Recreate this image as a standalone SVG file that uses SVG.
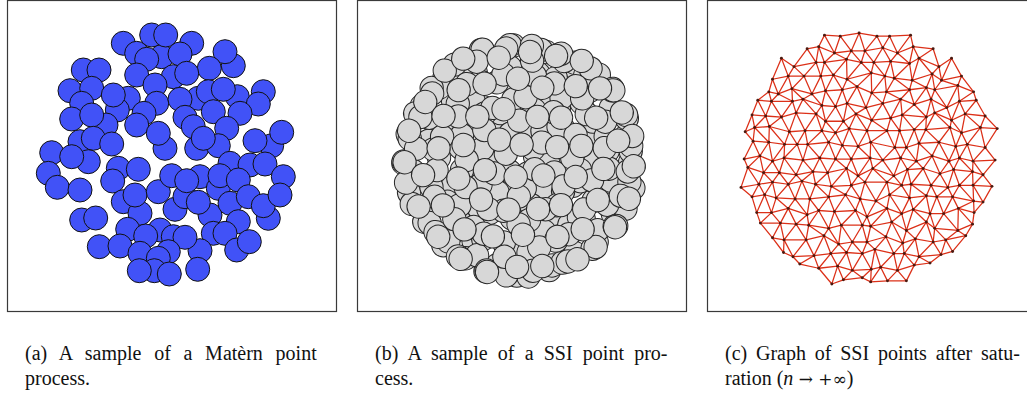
<svg xmlns="http://www.w3.org/2000/svg" xmlns:xlink="http://www.w3.org/1999/xlink" width="1027" height="394" viewBox="0 0 1027 394">
<style>
.frame{fill:#fff;stroke:#3a3a3a;stroke-width:1.2}
.m{fill:#4152f7;stroke:#111;stroke-width:1}
.s{fill:#d7d7d7;stroke:#262626;stroke-width:0.93}
.e{fill:none;stroke:#dc3018;stroke-width:1.2;stroke-linejoin:round}
.r{marker-start:url(#dot);marker-mid:url(#dot);marker-end:url(#dot)}
.cap{font-family:"Liberation Serif","Times New Roman",serif;font-size:20px;fill:#111}
</style>
<defs>
<marker id="dot" markerUnits="userSpaceOnUse" markerWidth="4" markerHeight="4" refX="2" refY="2" overflow="visible"><circle cx="2" cy="2" r="1.4" fill="#4a1a10"/></marker>
<g id="ssi">
<circle class="s" cx="-35" cy="-101" r="10.8"/><circle class="s" cx="-6" cy="-106" r="10.8"/><circle class="s" cx="24" cy="-100" r="10.8"/>
<circle class="s" cx="-70" cy="-76" r="10.8"/><circle class="s" cx="-41" cy="-81" r="10.8"/><circle class="s" cx="-13" cy="-75" r="10.8"/><circle class="s" cx="17" cy="-80" r="10.8"/><circle class="s" cx="44" cy="-74" r="10.8"/><circle class="s" cx="73" cy="-79" r="10.8"/>
<circle class="s" cx="-91" cy="-50" r="10.8"/><circle class="s" cx="-62" cy="-55" r="10.8"/><circle class="s" cx="-34" cy="-49" r="10.8"/><circle class="s" cx="-3" cy="-54" r="10.8"/><circle class="s" cx="26" cy="-50" r="10.8"/><circle class="s" cx="57" cy="-53" r="10.8"/><circle class="s" cx="84" cy="-48" r="10.8"/>
<circle class="s" cx="-104" cy="-24" r="10.8"/><circle class="s" cx="-77" cy="-29" r="10.8"/><circle class="s" cx="-46" cy="-23" r="10.8"/><circle class="s" cx="-19" cy="-28" r="10.8"/><circle class="s" cx="12" cy="-24" r="10.8"/><circle class="s" cx="40" cy="-29" r="10.8"/><circle class="s" cx="71" cy="-25" r="10.8"/><circle class="s" cx="98" cy="-22" r="10.8"/>
<circle class="s" cx="-108" cy="3" r="10.8"/><circle class="s" cx="-75" cy="-2" r="10.8"/><circle class="s" cx="-47" cy="4" r="10.8"/><circle class="s" cx="-16" cy="1" r="10.8"/><circle class="s" cx="14" cy="-3" r="10.8"/><circle class="s" cx="43" cy="3" r="10.8"/><circle class="s" cx="70" cy="-1" r="10.8"/><circle class="s" cx="102" cy="2" r="10.8"/>
<circle class="s" cx="-95" cy="28" r="10.8"/><circle class="s" cx="-65" cy="24" r="10.8"/><circle class="s" cx="-38" cy="30" r="10.8"/><circle class="s" cx="-7" cy="25" r="10.8"/><circle class="s" cx="22" cy="29" r="10.8"/><circle class="s" cx="49" cy="24" r="10.8"/><circle class="s" cx="81" cy="28" r="10.8"/><circle class="s" cx="105" cy="26" r="10.8"/>
<circle class="s" cx="-87" cy="50" r="10.8"/><circle class="s" cx="-57" cy="55" r="10.8"/><circle class="s" cx="-28" cy="49" r="10.8"/><circle class="s" cx="1" cy="54" r="10.8"/><circle class="s" cx="30" cy="50" r="10.8"/><circle class="s" cx="59" cy="55" r="10.8"/><circle class="s" cx="86" cy="50" r="10.8"/>
<circle class="s" cx="-71" cy="79" r="10.8"/><circle class="s" cx="-43" cy="75" r="10.8"/><circle class="s" cx="-13" cy="80" r="10.8"/><circle class="s" cx="16" cy="76" r="10.8"/><circle class="s" cx="45" cy="81" r="10.8"/><circle class="s" cx="71" cy="76" r="10.8"/>
<circle class="s" cx="-32" cy="103" r="10.8"/><circle class="s" cx="-3" cy="107" r="10.8"/><circle class="s" cx="27" cy="102" r="10.8"/>
</g>
</defs>
<rect width="1027" height="394" fill="#fff"/>

<g id="panel-a">
<rect class="frame" x="7.5" y="0.5" width="329" height="311"/>
<g id="matern-points">
<circle class="m" cx="123.3" cy="43.3" r="12"/><circle class="m" cx="151.7" cy="35" r="12"/><circle class="m" cx="191.7" cy="43.3" r="12"/>
<circle class="m" cx="136.7" cy="53.3" r="12"/><circle class="m" cx="161.7" cy="56.7" r="12"/><circle class="m" cx="165.7" cy="35" r="12"/>
<circle class="m" cx="146.7" cy="59.3" r="12"/><circle class="m" cx="180" cy="54" r="12"/><circle class="m" cx="233.3" cy="65.7" r="12"/><circle class="m" cx="225" cy="51.7" r="12"/>
<circle class="m" cx="209.3" cy="68.3" r="12"/><circle class="m" cx="173.3" cy="76.7" r="12"/><circle class="m" cx="186.7" cy="73.3" r="12"/>
<circle class="m" cx="136.7" cy="75" r="12"/><circle class="m" cx="155" cy="85" r="12"/>
<circle class="m" cx="83.3" cy="70" r="12"/><circle class="m" cx="99" cy="70" r="12"/>
<circle class="m" cx="70" cy="90.7" r="12"/><circle class="m" cx="91.7" cy="88.3" r="12"/><circle class="m" cx="81.7" cy="103.3" r="12"/>
<circle class="m" cx="128.3" cy="98.3" r="12"/><circle class="m" cx="117.3" cy="110" r="12"/><circle class="m" cx="113.3" cy="95" r="12"/>
<circle class="m" cx="156.7" cy="103.3" r="12"/><circle class="m" cx="144" cy="113.3" r="12"/>
<circle class="m" cx="198.3" cy="98.3" r="12"/><circle class="m" cx="180" cy="99.3" r="12"/>
<circle class="m" cx="208.3" cy="91.7" r="12"/><circle class="m" cx="237.3" cy="96.7" r="12"/><circle class="m" cx="223.3" cy="89.3" r="12"/>
<circle class="m" cx="263.3" cy="91.7" r="12"/><circle class="m" cx="258.3" cy="104" r="12"/>
<circle class="m" cx="240" cy="113.3" r="12"/><circle class="m" cx="213.3" cy="111.7" r="12"/><circle class="m" cx="185" cy="117.3" r="12"/>
<circle class="m" cx="71.7" cy="119" r="12"/><circle class="m" cx="106" cy="125" r="12"/><circle class="m" cx="91.7" cy="115" r="12"/>
<circle class="m" cx="136.7" cy="125" r="12"/><circle class="m" cx="165" cy="148.3" r="12"/><circle class="m" cx="158.3" cy="133.3" r="12"/>
<circle class="m" cx="226.7" cy="128.3" r="12"/><circle class="m" cx="196.7" cy="148.3" r="12"/><circle class="m" cx="193.3" cy="126.7" r="12"/>
<circle class="m" cx="218.3" cy="145.7" r="12"/><circle class="m" cx="203.3" cy="138.3" r="12"/>
<circle class="m" cx="271.7" cy="145.7" r="12"/><circle class="m" cx="255" cy="140.7" r="12"/><circle class="m" cx="281.7" cy="132.3" r="12"/>
<circle class="m" cx="80" cy="141.7" r="12"/><circle class="m" cx="93.3" cy="138.3" r="12"/><circle class="m" cx="111.7" cy="144" r="12"/>
<circle class="m" cx="51.7" cy="152.7" r="12"/><circle class="m" cx="88.3" cy="161.7" r="12"/><circle class="m" cx="71.7" cy="156.7" r="12"/>
<circle class="m" cx="48.3" cy="173.3" r="12"/><circle class="m" cx="57.3" cy="187.3" r="12"/><circle class="m" cx="80" cy="190" r="12"/>
<circle class="m" cx="118.3" cy="168.3" r="12"/><circle class="m" cx="112.7" cy="181" r="12"/><circle class="m" cx="138.3" cy="169.3" r="12"/>
<circle class="m" cx="123.3" cy="201.7" r="12"/><circle class="m" cx="140" cy="213.3" r="12"/><circle class="m" cx="135" cy="195" r="12"/>
<circle class="m" cx="158.3" cy="191.7" r="12"/><circle class="m" cx="171.7" cy="175.7" r="12"/><circle class="m" cx="200" cy="176.7" r="12"/>
<circle class="m" cx="175" cy="209.3" r="12"/><circle class="m" cx="185" cy="196.7" r="12"/><circle class="m" cx="186.7" cy="180.7" r="12"/>
<circle class="m" cx="210" cy="215" r="12"/><circle class="m" cx="198.3" cy="202.3" r="12"/>
<circle class="m" cx="230" cy="163.3" r="12"/><circle class="m" cx="218.3" cy="188.3" r="12"/><circle class="m" cx="220" cy="175.7" r="12"/>
<circle class="m" cx="250" cy="165" r="12"/><circle class="m" cx="265" cy="164" r="12"/><circle class="m" cx="283.3" cy="176.7" r="12"/>
<circle class="m" cx="238.3" cy="180" r="12"/><circle class="m" cx="230" cy="203.3" r="12"/><circle class="m" cx="248.3" cy="196.7" r="12"/>
<circle class="m" cx="268.3" cy="218.3" r="12"/><circle class="m" cx="263.3" cy="205.7" r="12"/><circle class="m" cx="280" cy="195" r="12"/>
<circle class="m" cx="238.3" cy="221.7" r="12"/>
<circle class="m" cx="81.7" cy="220" r="12"/><circle class="m" cx="95.7" cy="218" r="12"/>
<circle class="m" cx="127.7" cy="229.3" r="12"/><circle class="m" cx="160" cy="230" r="12"/><circle class="m" cx="145.7" cy="236" r="12"/>
<circle class="m" cx="173.3" cy="236.7" r="12"/><circle class="m" cx="213.3" cy="233.3" r="12"/><circle class="m" cx="225" cy="233.3" r="12"/>
<circle class="m" cx="200" cy="250.7" r="12"/><circle class="m" cx="185" cy="237.3" r="12"/>
<circle class="m" cx="236.7" cy="250" r="12"/><circle class="m" cx="249.3" cy="241.7" r="12"/>
<circle class="m" cx="99.3" cy="246.7" r="12"/><circle class="m" cx="120" cy="246" r="12"/>
<circle class="m" cx="140" cy="253.3" r="12"/><circle class="m" cx="168.3" cy="251.7" r="12"/><circle class="m" cx="158.3" cy="258.3" r="12"/>
<circle class="m" cx="154.3" cy="270.7" r="12"/><circle class="m" cx="139.3" cy="270.7" r="12"/><circle class="m" cx="169.3" cy="274" r="12"/>
<circle class="m" cx="197.7" cy="269.3" r="12"/>
</g>
</g>

<g id="panel-b">
<rect class="frame" x="357.5" y="0.5" width="329" height="311"/>
<g id="ssi-points">
<use xlink:href="#ssi" transform="translate(520,160) rotate(0) scale(1.08)"/>
<use xlink:href="#ssi" transform="translate(520,160) rotate(72) scale(1.08)"/>
<use xlink:href="#ssi" transform="translate(520,160) rotate(144) scale(1.08)"/>
<use xlink:href="#ssi" transform="translate(520,160) rotate(216) scale(1.08)"/>
<use xlink:href="#ssi" transform="translate(520,160) rotate(288) scale(1.08)"/>
</g>
</g>

<g id="panel-c">
<rect class="frame" x="707.5" y="0.5" width="330" height="311"/>
<g id="ssi-graph" transform="translate(867,158) scale(1.05) translate(-867,-158)">
<g id="graph-edges-a" class="e">
<polyline points="747,186 757.5,195 762,210 765.5,220 777,234 787.5,248"/>
<polyline points="750,159 753.5,167 764,183 769.5,193 776,210 784.5,220 788,236 796.5,252 803,259"/>
<polyline points="751,133 758.5,142 765,156 768.5,172 777,181 780.5,196 792,206 799.5,221 809,236 816.5,251 821,263 833.5,278"/>
<polyline points="757.5,117 760,129 773.5,143 777,161 783.5,172 792,183 798.5,197 810,212 811.5,222 826,232 832.5,249 839,261 844.5,274"/>
<polyline points="763,103 770.5,118 774,128 788.5,145 788,158 799.5,174 805,180 812.5,197 821,208 830.5,225 840,240 847.5,248 853,265 862.5,272"/>
<polyline points="773.5,95 776,104 785.5,119 793,133 800.5,145 806,160 815.5,171 818,183 830.5,195 836,209 842.5,222 853,238 862.5,249 871,264 870.5,276"/>
<polyline points="777,83 782.5,97 796,104 799.5,115 808,132 810.5,145 822,158 829.5,172 833,185 846.5,193 856,208 862.5,222 867,238 874.5,245 880,262 886.5,275"/>
<polyline points="785.5,63 792,80 795.5,92 806,102 818.5,116 824,132 830.5,143 837,159 847.5,168 852,184 860.5,197 867,214 870.5,223 885,233 892.5,249 896,265 904.5,275"/>
<polyline points="797.5,71 807,80 814.5,97 824,108 827.5,123 837,134 843.5,146 852,159 858.5,175 865,181 875.5,199 886,206 890.5,219 901,239 902.5,249 912,260"/>
<polyline points="810,54 818.5,67 823,80 827.5,94 837,109 844.5,123 850,130 858.5,147 870,158 872.5,168 886,181 888.5,193 900,211 904.5,227 913,235 916.5,252 927,258"/>
<polyline points="821,52 826.5,67 835,79 843.5,93 848,106 856.5,116 867,132 870.5,143 882,160 892.5,175 900,184 907.5,196 911,207 923.5,219 930,238 937.5,250"/>
<polyline points="826.5,41 836,58 847.5,64 848,83 857.5,90 866,110 871.5,122 886,132 893.5,148 899,158 905.5,169 909,183 923.5,194 927,211 931.5,225 942,236 948.5,247"/>
<polyline points="841.5,42 852,56 861.5,67 871,77 871.5,96 882,106 889.5,120 898,132 904.5,148 914,161 920.5,168 928,184 933.5,195 940,211 953.5,227 961,232"/>
<polyline points="859.5,39 865,56 873.5,67 884,80 885.5,95 899,102 900.5,117 912,131 916.5,144 929,156 936.5,173 944,186 948.5,195 954,206 967.5,221"/>
<polyline points="876.5,42 882,53 889.5,66 893,82 907.5,93 912,107 923.5,119 923,131 935.5,143 945,161 949.5,169 955,184 968.5,199 969,210"/>
<polyline points="888.5,42 896,58 907.5,68 910,84 923.5,91 928,102 931.5,115 946,129 951.5,147 955,158 967.5,171 968,184 977.5,200"/>
<polyline points="908.5,41 911,52 916.5,63 929,78 931.5,93 943,110 947.5,122 957,134 962.5,145 968,161 977.5,174 986,185"/>
<polyline points="930,54 935.5,71 938,84 953.5,89 955,104 960.5,116 975,129 979.5,148 989,160"/>
<polyline points="947.5,63 957,80 968.5,95 971,103 979.5,118 991,130"/>
</g>
<g id="graph-edges-b" class="e">
<polyline points="785.5,63 777,83 773.5,95 763,103 757.5,117 751,133"/>
<polyline points="810,54 797.5,71 792,80 782.5,97 776,104 770.5,118 760,129 758.5,142 750,159"/>
<polyline points="826.5,41 821,52 818.5,67 807,80 795.5,92 796,104 785.5,119 774,128 773.5,143 765,156 753.5,167 747,186"/>
<polyline points="841.5,42 836,58 826.5,67 823,80 814.5,97 806,102 799.5,115 793,133 788.5,145 777,161 768.5,172 764,183 757.5,195"/>
<polyline points="859.5,39 852,56 847.5,64 835,79 827.5,94 824,108 818.5,116 808,132 800.5,145 788,158 783.5,172 777,181 769.5,193 762,210"/>
<polyline points="876.5,42 865,56 861.5,67 848,83 843.5,93 837,109 827.5,123 824,132 810.5,145 806,160 799.5,174 792,183 780.5,196 776,210 765.5,220"/>
<polyline points="888.5,42 882,53 873.5,67 871,77 857.5,90 848,106 844.5,123 837,134 830.5,143 822,158 815.5,171 805,180 798.5,197 792,206 784.5,220 777,234"/>
<polyline points="908.5,41 896,58 889.5,66 884,80 871.5,96 866,110 856.5,116 850,130 843.5,146 837,159 829.5,172 818,183 812.5,197 810,212 799.5,221 788,236 787.5,248"/>
<polyline points="911,52 907.5,68 893,82 885.5,95 882,106 871.5,122 867,132 858.5,147 852,159 847.5,168 833,185 830.5,195 821,208 811.5,222 809,236 796.5,252"/>
<polyline points="930,54 916.5,63 910,84 907.5,93 899,102 889.5,120 886,132 870.5,143 870,158 858.5,175 852,184 846.5,193 836,209 830.5,225 826,232 816.5,251 803,259"/>
<polyline points="935.5,71 929,78 923.5,91 912,107 900.5,117 898,132 893.5,148 882,160 872.5,168 865,181 860.5,197 856,208 842.5,222 840,240 832.5,249 821,263"/>
<polyline points="947.5,63 938,84 931.5,93 928,102 923.5,119 912,131 904.5,148 899,158 892.5,175 886,181 875.5,199 867,214 862.5,222 853,238 847.5,248 839,261 833.5,278"/>
<polyline points="957,80 953.5,89 943,110 931.5,115 923,131 916.5,144 914,161 905.5,169 900,184 888.5,193 886,206 870.5,223 867,238 862.5,249 853,265 844.5,274"/>
<polyline points="968.5,95 955,104 947.5,122 946,129 935.5,143 929,156 920.5,168 909,183 907.5,196 900,211 890.5,219 885,233 874.5,245 871,264 862.5,272"/>
<polyline points="971,103 960.5,116 957,134 951.5,147 945,161 936.5,173 928,184 923.5,194 911,207 904.5,227 901,239 892.5,249 880,262 870.5,276"/>
<polyline points="979.5,118 975,129 962.5,145 955,158 949.5,169 944,186 933.5,195 927,211 923.5,219 913,235 902.5,249 896,265 886.5,275"/>
<polyline points="991,130 979.5,148 968,161 967.5,171 955,184 948.5,195 940,211 931.5,225 930,238 916.5,252 912,260 904.5,275"/>
<polyline points="989,160 977.5,174 968,184 968.5,199 954,206 953.5,227 942,236 937.5,250 927,258"/>
<polyline points="986,185 977.5,200 969,210 967.5,221 961,232 948.5,247"/>
</g>
<g id="graph-rows" class="e r">
<polyline points="826.5,41 841.5,42 859.5,39 876.5,42 888.5,42 908.5,41"/>
<polyline points="810,54 821,52 836,58 852,56 865,56 882,53 896,58 911,52 930,54"/>
<polyline points="785.5,63 797.5,71 818.5,67 826.5,67 847.5,64 861.5,67 873.5,67 889.5,66 907.5,68 916.5,63 935.5,71 947.5,63"/>
<polyline points="777,83 792,80 807,80 823,80 835,79 848,83 871,77 884,80 893,82 910,84 929,78 938,84 957,80"/>
<polyline points="773.5,95 782.5,97 795.5,92 814.5,97 827.5,94 843.5,93 857.5,90 871.5,96 885.5,95 907.5,93 923.5,91 931.5,93 953.5,89 968.5,95"/>
<polyline points="763,103 776,104 796,104 806,102 824,108 837,109 848,106 866,110 882,106 899,102 912,107 928,102 943,110 955,104 971,103"/>
<polyline points="757.5,117 770.5,118 785.5,119 799.5,115 818.5,116 827.5,123 844.5,123 856.5,116 871.5,122 889.5,120 900.5,117 923.5,119 931.5,115 947.5,122 960.5,116 979.5,118"/>
<polyline points="751,133 760,129 774,128 793,133 808,132 824,132 837,134 850,130 867,132 886,132 898,132 912,131 923,131 946,129 957,134 975,129 991,130"/>
<polyline points="758.5,142 773.5,143 788.5,145 800.5,145 810.5,145 830.5,143 843.5,146 858.5,147 870.5,143 893.5,148 904.5,148 916.5,144 935.5,143 951.5,147 962.5,145 979.5,148"/>
<polyline points="750,159 765,156 777,161 788,158 806,160 822,158 837,159 852,159 870,158 882,160 899,158 914,161 929,156 945,161 955,158 968,161 989,160"/>
<polyline points="753.5,167 768.5,172 783.5,172 799.5,174 815.5,171 829.5,172 847.5,168 858.5,175 872.5,168 892.5,175 905.5,169 920.5,168 936.5,173 949.5,169 967.5,171 977.5,174"/>
<polyline points="747,186 764,183 777,181 792,183 805,180 818,183 833,185 852,184 865,181 886,181 900,184 909,183 928,184 944,186 955,184 968,184 986,185"/>
<polyline points="757.5,195 769.5,193 780.5,196 798.5,197 812.5,197 830.5,195 846.5,193 860.5,197 875.5,199 888.5,193 907.5,196 923.5,194 933.5,195 948.5,195 968.5,199 977.5,200"/>
<polyline points="762,210 776,210 792,206 810,212 821,208 836,209 856,208 867,214 886,206 900,211 911,207 927,211 940,211 954,206 969,210"/>
<polyline points="765.5,220 784.5,220 799.5,221 811.5,222 830.5,225 842.5,222 862.5,222 870.5,223 890.5,219 904.5,227 923.5,219 931.5,225 953.5,227 967.5,221"/>
<polyline points="777,234 788,236 809,236 826,232 840,240 853,238 867,238 885,233 901,239 913,235 930,238 942,236 961,232"/>
<polyline points="787.5,248 796.5,252 816.5,251 832.5,249 847.5,248 862.5,249 874.5,245 892.5,249 902.5,249 916.5,252 937.5,250 948.5,247"/>
<polyline points="803,259 821,263 839,261 853,265 871,264 880,262 896,265 912,260 927,258"/>
<polyline points="833.5,278 844.5,274 862.5,272 870.5,276 886.5,275 904.5,275"/>
</g>
</g>
</g>

<g id="captions" class="cap">
<text x="25" y="360" word-spacing="7.7">(a) A sample of a Matèrn point</text>
<text x="25" y="385">process.</text>
<text x="375" y="360" word-spacing="5.2">(b) A sample of a SSI point pro-</text>
<text x="375" y="385">cess.</text>
<text x="725" y="360" word-spacing="3.8">(c) Graph of SSI points after satu-</text>
<text x="725" y="385">ration (<tspan font-style="italic">n</tspan><tspan font-family="'DejaVu Serif',serif" font-size="17"> → +∞</tspan>)</text>
</g>
</svg>
